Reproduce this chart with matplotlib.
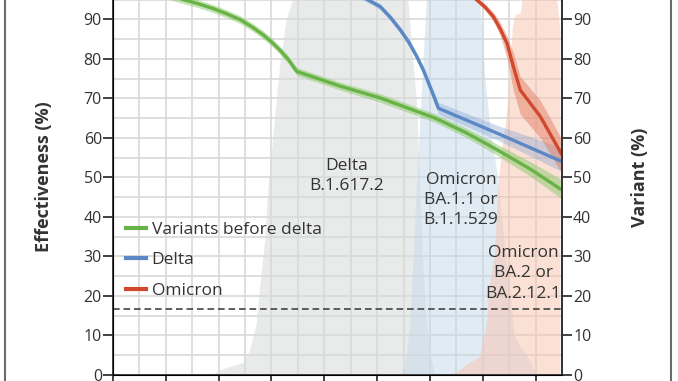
import matplotlib
matplotlib.use("Agg")
import matplotlib.pyplot as plt
from matplotlib.lines import Line2D

plt.rcParams["font.family"] = ["Open Sans", "DejaVu Sans"]

# Vaccine effectiveness curves (months on x, % on y)
green_x = [0, 0.4, 0.8, 1.27, 1.6, 1.9, 2.15, 2.41, 2.63, 2.85, 3.0, 3.16, 3.32, 3.48,
           4.3, 5.06, 6.1, 6.7, 7.27, 7.9, 8.5]
green_y = [98.8, 98.2, 97.1, 95.2, 94.0, 92.7, 91.4, 89.9, 88.1, 86.0, 84.3, 82.2, 79.8, 76.8,
           73.1, 70.1, 65.0, 61.2, 57.0, 52.1, 46.8]
green_lo = [97.8, 97.2, 96.1, 94.2, 93.0, 91.7, 90.4, 88.9, 87.1, 85.0, 83.3, 81.2, 78.8, 75.8,
            72.1, 69.0, 63.9, 60.0, 55.6, 50.3, 44.5]
green_hi = [99.8, 99.2, 98.1, 96.2, 95.0, 93.7, 92.4, 90.9, 89.1, 87.0, 85.3, 83.2, 80.8, 77.8,
            74.1, 71.2, 66.1, 62.4, 58.4, 54.0, 49.4]

blue_x = [3.6, 4.2, 4.5, 4.83, 5.06, 5.25, 5.44, 5.6, 5.75, 5.88, 6.0, 6.08, 6.16, 7.27, 8.5]
blue_y = [99.5, 98, 96.8, 94.9, 93.2, 90.5, 87.3, 84.2, 80.6, 77.0, 73.0, 70.3, 67.5, 61.2, 54.0]
blue_lo = [99.0, 97.4, 96.2, 94.2, 92.4, 89.7, 86.4, 83.3, 79.6, 75.9, 71.8, 69.0, 66.0, 59.5, 51.5]
blue_hi = [100, 98.6, 97.4, 95.6, 94.0, 91.3, 88.2, 85.1, 81.6, 78.1, 74.2, 71.6, 69.0, 63.2, 57.5]

red_x = [6.0, 6.5, 6.7, 6.89, 7.05, 7.2, 7.33, 7.46, 7.58, 7.71, 8.09, 8.5]
red_y = [99.5, 98, 96.8, 94.9, 93.0, 90.7, 87.6, 83.9, 78.0, 72.1, 65.4, 55.7]
red_lo = [99.3, 97.7, 96.4, 94.3, 92.2, 89.5, 86.0, 80.0, 72.0, 66.0, 60.0, 51.0]
red_hi = [99.7, 98.3, 97.2, 95.5, 93.8, 91.8, 89.2, 85.8, 81.5, 75.5, 69.5, 59.5]

# Variant share areas (right axis, %)
delta_x = [1.9, 2.0, 2.2, 2.46, 2.59, 2.72, 2.78, 2.88, 2.94, 3.04, 3.16, 3.29, 3.41, 3.54,
           4.0, 5.0, 5.5, 5.56, 5.59, 5.67, 5.75, 5.81, 5.87, 5.93, 6.0, 6.1]
delta_y = [0, 1, 2, 3, 6, 13, 21.5, 34, 47, 61, 78, 90, 95, 98,
           99.5, 99.5, 99.5, 98, 95, 82, 70, 50, 30, 15, 6, 0]

ba1_x = [5.45, 5.53, 5.63, 5.75, 5.84, 5.94, 6.0, 6.5, 6.9, 6.95, 7.0, 7.05, 7.15, 7.29,
         7.4, 7.52, 7.6, 7.72, 7.85, 8.02]
ba1_y = [0, 2, 13, 47, 70, 95, 99, 99.5, 98.5, 95, 86, 75, 62, 50,
         35, 21.5, 10, 7, 4.6, 0]

ba2_x = [6.3, 6.5, 6.7, 6.95, 7.08, 7.12, 7.23, 7.29, 7.35, 7.45, 7.52, 7.57, 7.62, 7.72,
         7.77, 8.0, 8.2, 8.41, 8.47]
ba2_y = [0, 0.5, 2.5, 4.6, 13, 21.5, 30, 47, 55, 65, 75, 88, 91, 91.5,
         97, 98, 98, 95, 87]

threshold = 16.7

fig = plt.figure(figsize=(6.78, 3.81), dpi=100)
ax = fig.add_axes([113 / 678, 6 / 381, 449 / 678, 395.2 / 381])
ax.set_xlim(0, 8.5)
ax.set_ylim(0, 100)

# grid every half month / 5 %
ax.set_xticks(range(0, 9))
ax.set_xticks([i * 0.5 for i in range(18)], minor=True)
ax.set_yticks(range(0, 91, 10))
ax.set_yticks(range(0, 101, 5), minor=True)
ax.grid(which="both", color="#d9d9d9", lw=1.2, zorder=0)
ax.set_axisbelow(True)

# variant areas
ax.fill_between(delta_x, 0, delta_y, color="#d8dcdc", alpha=0.55, lw=0, zorder=1)
ax.fill_between(ba1_x, 0, ba1_y, color="#c5d9ea", alpha=0.5, lw=0, zorder=1)
ax.fill_between(ba2_x, 0, ba2_y, color="#f7c2ac", alpha=0.5, lw=0, zorder=1)

ax.axhline(threshold, color="#444444", lw=1.2, ls=(0, (4, 2.3)), zorder=2)

# effectiveness curves with bands
ax.fill_between(green_x, green_lo, green_hi, color="#8cc96a", alpha=0.5, lw=0, zorder=3)
ax.fill_between(blue_x, blue_lo, blue_hi, color="#7c9fd2", alpha=0.35, lw=0, zorder=3)
ax.fill_between(red_x, red_lo, red_hi, color="#e0755a", alpha=0.45, lw=0, zorder=3)
for xs, ys, c in [(green_x, green_y, "#67b346"), (blue_x, blue_y, "#5b87c5"),
                  (red_x, red_y, "#d0492f")]:
    ax.plot(xs, ys, color=c, lw=2.4, zorder=4, solid_capstyle="butt",
            solid_joinstyle="round")

# annotations
ax.text(4.43, 50.4, "Delta\nB.1.617.2", ha="center", va="center", fontsize=12.5,
        color="#333333", linespacing=1.35, zorder=5)
ax.text(6.59, 44.3, "Omicron\nBA.1.1 or\nB.1.1.529", ha="center", va="center",
        fontsize=12.5, color="#333333", linespacing=1.35, zorder=5)
ax.text(7.77, 25.7, "Omicron\nBA.2 or\nBA.2.12.1", ha="center", va="center",
        fontsize=12.5, color="#333333", linespacing=1.35, zorder=5)

# legend
handles = [Line2D([], [], color="#67b346", lw=3),
           Line2D([], [], color="#5b87c5", lw=3),
           Line2D([], [], color="#d0492f", lw=3)]
ax.legend(handles, ["Variants before delta", "Delta", "Omicron"], loc="upper left",
          bbox_to_anchor=(0.03, 0.387), frameon=False, fontsize=12.5, handlelength=1.1,
          handletextpad=0.35, labelspacing=0.81, borderpad=0, borderaxespad=0,
          labelcolor="#333333")

# spines and ticks
for side in ["left", "bottom", "right"]:
    ax.spines[side].set_color("#333333")
    ax.spines[side].set_linewidth(1.3)
ax.spines["top"].set_visible(False)
ax.tick_params(which="major", direction="out", length=7, width=1.3, color="#333333",
               labelsize=11.5, labelcolor="#333333", pad=1)
ax.tick_params(which="minor", length=0)
ax.tick_params(axis="x", labelbottom=False)

ax2 = ax.twinx()
ax2.set_ylim(0, 100)
ax2.set_yticks(range(0, 91, 10))
ax2.spines["top"].set_visible(False)
ax2.spines["right"].set_color("#333333")
ax2.spines["right"].set_linewidth(1.3)
ax2.tick_params(direction="out", length=7, width=1.3, color="#333333",
                labelsize=11.5, labelcolor="#333333", pad=1)

fig.text(44 / 678, 1 - 177 / 381, "Effectiveness (%)", rotation=90, ha="center",
         va="center", fontsize=13, fontweight="bold", color="#333333")
fig.text(640 / 678, 1 - 177 / 381, "Variant (%)", rotation=90, ha="center",
         va="center", fontsize=13, fontweight="bold", color="#333333")

# outer frame
for xf in [5 / 678, 671 / 678]:
    fig.add_artist(Line2D([xf, xf], [0, 1], transform=fig.transFigure,
                          color="#6b6b6b", lw=1.5))

fig.savefig("out.png", dpi=100)
